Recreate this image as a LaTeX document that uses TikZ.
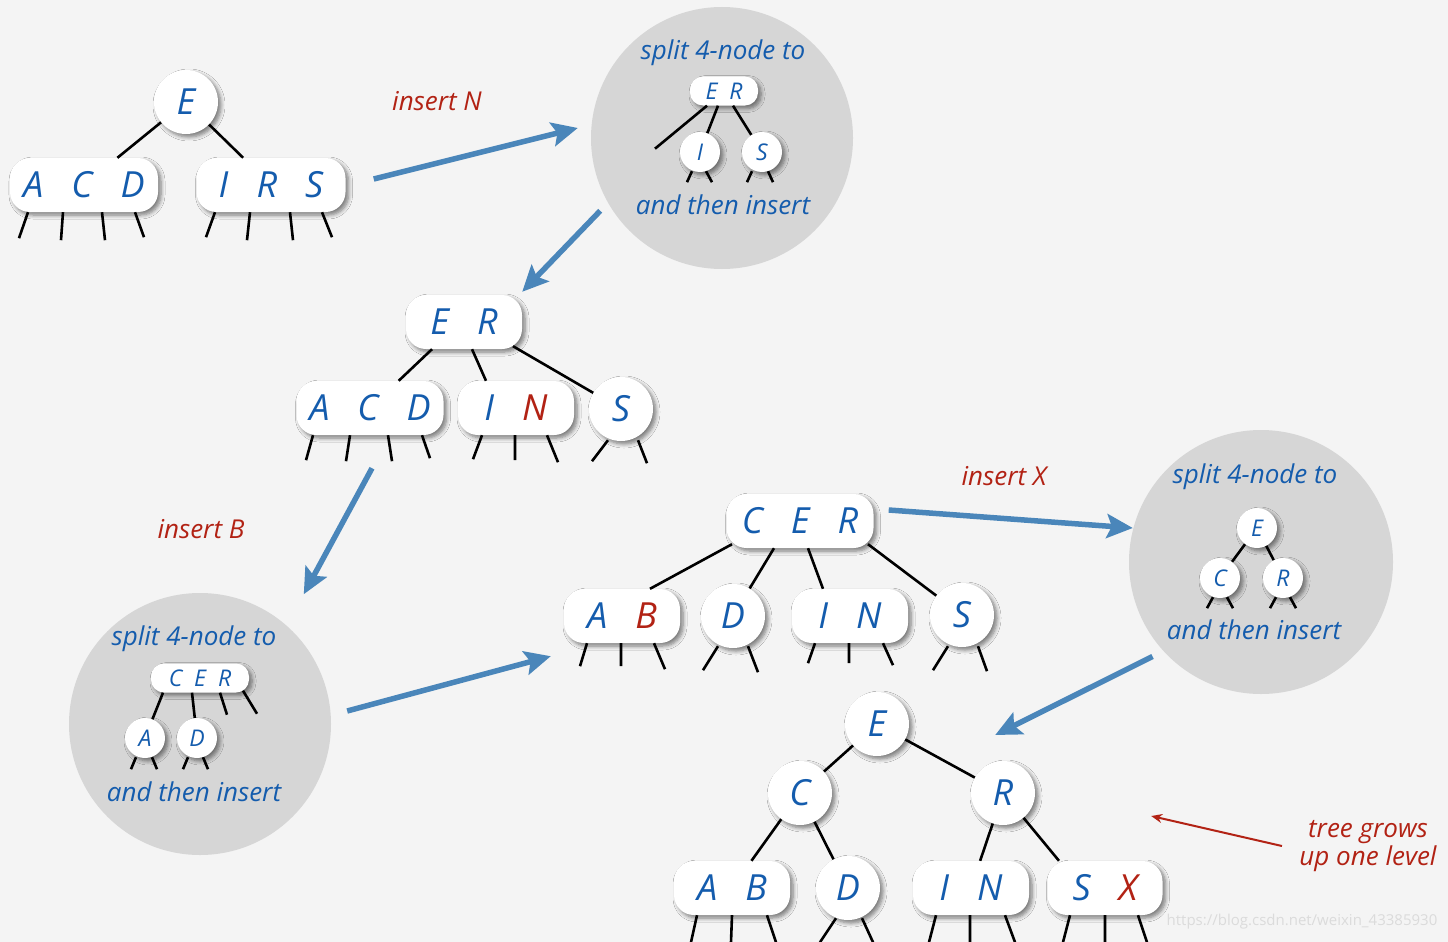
\documentclass[tikz,border=0pt]{standalone}
\usepackage{fontspec}
\setmainfont{Open Sans}
\usetikzlibrary{arrows.meta,shadows.blur}
\definecolor{keyblue}{RGB}{20,92,173}
\definecolor{keyred}{RGB}{178,34,20}
\definecolor{arrblue}{RGB}{74,134,186}
\definecolor{discgray}{RGB}{214,214,214}
\definecolor{bggray}{RGB}{244,244,244}

\begin{document}
\begin{tikzpicture}[
  x=1pt, y=-1pt,
  knode/.style={circle, fill=white, minimum size=64pt, inner sep=0pt, text=keyblue,
    font=\itshape\fontsize{36}{42}\selectfont,
    blur shadow={shadow xshift=3pt, shadow yshift=-3pt, shadow blur radius=4pt, shadow blur steps=6, shadow opacity=50}},
  kpill/.style={knode, rectangle, rounded corners=20pt, minimum height=54pt, minimum width=116pt},
  sknode/.style={knode, minimum size=40pt, font=\itshape\fontsize{23}{27}\selectfont},
  skpill/.style={kpill, minimum height=29pt, rounded corners=13pt, font=\itshape\fontsize{23}{27}\selectfont},
  disc/.style={circle, fill=discgray, minimum size=262pt, inner sep=0pt},
  link/.style={line width=2.6pt, black},
  arr/.style={-{Stealth[length=26pt,width=24pt,inset=5pt]}, line width=5.5pt, arrblue},
  redarr/.style={-{Stealth[length=11pt,width=9pt]}, line width=2pt, keyred},
  lbl/.style={text=keyred, font=\itshape\fontsize{26}{28}\selectfont, align=center},
  note/.style={text=keyblue, font=\itshape\fontsize{26}{28}\selectfont}
]

% canvas
\fill[bggray] (0,0) rectangle (1448,942);
\useasboundingbox (0,0) rectangle (1448,942);

% grey split discs
\node[disc] (disc1) at (722,138) {};
\node[disc] (disc2) at (200,724) {};
\node[disc, minimum size=264pt] (disc3) at (1261,562) {};

% first tree
\node[knode] (e1) at (186,102) {E};
\node[kpill, minimum width=148pt] (acd1) at (84,185) {A~~~C~~~D};
\node[kpill, minimum width=149pt] (irs1) at (271,185) {I~~~R~~~S};
\draw[link] (e1) -- (acd1);
\draw[link] (e1) -- (irs1);
\draw[link] ([shift={(-56,0)}]acd1.south) -- ++(-9,26) ([shift={(-21,0)}]acd1.south) -- ++(-2,28)
  ([shift={(18,0)}]acd1.south) -- ++(3,28) ([shift={(51,0)}]acd1.south) -- ++(9,25);
\draw[link] ([shift={(-56,0)}]irs1.south) -- ++(-9,25) ([shift={(-21,0)}]irs1.south) -- ++(-3,28)
  ([shift={(19,0)}]irs1.south) -- ++(3,28) ([shift={(51,0)}]irs1.south) -- ++(10,25);

% split of I R S
\node[note] (split1) at (723,53) {split 4-node to};
\node[note] (then1) at (723,205) {and then insert};
\node[skpill, minimum width=68pt] (er1) at (724,91) {E~~R};
\node[sknode] (i1) at (700,152) {I};
\node[sknode] (s1) at (762,152) {S};
\draw[link] ([shift={(-17,0)}]er1.south) -- ++(-52,43);
\draw[link] ([shift={(-6,0)}]er1.south) -- (i1);
\draw[link] ([shift={(9,0)}]er1.south) -- (s1);
\draw[link] ([shift={(-8,-1)}]i1.south) -- ++(-5,11) ([shift={(6,-1)}]i1.south) -- ++(6,11);
\draw[link] ([shift={(-10,-1)}]s1.south) -- ++(-5,11) ([shift={(6,-1)}]s1.south) -- ++(5,11);

% second tree
\node[kpill] (er2) at (464,322) {E~~~R};
\node[kpill, minimum width=147pt] (acd2) at (370,408) {A~~~C~~~D};
\node[kpill] (in2) at (516,408) {I~~~\textcolor{keyred}{N}};
\node[knode] (s2) at (621,409) {S};
\draw[link] ([shift={(-32,0)}]er2.south) -- (acd2);
\draw[link] ([shift={(8,0)}]er2.south) -- ([shift={(-30,0)}]in2.north);
\draw[link] ([shift={(49,-3)}]er2.south) -- (s2);
\draw[link] ([shift={(-57,0)}]acd2.south) -- ++(-7,25) ([shift={(-20,0)}]acd2.south) -- ++(-4,26)
  ([shift={(18,0)}]acd2.south) -- ++(4,26) ([shift={(52,0)}]acd2.south) -- ++(8,23);
\draw[link] ([shift={(-34,0)}]in2.south) -- ++(-9,24) ([shift={(-1,0)}]in2.south) -- ++(0,25)
  ([shift={(31,0)}]in2.south) -- ++(11,27);
\draw[link] ([shift={(-13,-1)}]s2.south) -- ++(-16,21) ([shift={(17,-1)}]s2.south) -- ++(9,23);

% split of A C D
\node[note] (split2) at (194,639) {split 4-node to};
\node[note] (then2) at (194,792) {and then insert};
\node[skpill, minimum width=98pt] (cer2) at (200,678) {C~~E~~R};
\node[sknode] (a2) at (145,738) {A};
\node[sknode] (d2) at (197,738) {D};
\draw[link] ([shift={(-37,0)}]cer2.south) -- (a2);
\draw[link] ([shift={(-8,0)}]cer2.south) -- (d2);
\draw[link] ([shift={(20,0)}]cer2.south) -- ++(7,22) ([shift={(43,-2)}]cer2.south) -- ++(14,23);
\draw[link] ([shift={(-9,-1)}]a2.south) -- ++(-5,12) ([shift={(7,-1)}]a2.south) -- ++(5,12);
\draw[link] ([shift={(-9,-1)}]d2.south) -- ++(-5,12) ([shift={(6,-1)}]d2.south) -- ++(5,12);

% third tree
\node[kpill, minimum width=147pt] (cer3) at (800,521) {C~~~E~~~R};
\node[kpill] (ab3) at (622,616) {A~~~\textcolor{keyred}{B}};
\node[knode] (d3) at (733,616) {D};
\node[kpill] (in3) at (850,616) {I~~~N};
\node[knode] (s3) at (962,615) {S};
\draw[link] ([shift={(-68,-4)}]cer3.south) -- ([shift={(28,0)}]ab3.north);
\draw[link] ([shift={(-26,0)}]cer3.south) -- (d3);
\draw[link] ([shift={(8,0)}]cer3.south) -- ([shift={(-27,0)}]in3.north);
\draw[link] ([shift={(68,-4)}]cer3.south) -- (s3);
\draw[link] ([shift={(-35,0)}]ab3.south) -- ++(-7,23) ([shift={(-1,0)}]ab3.south) -- ++(0,23)
  ([shift={(32,0)}]ab3.south) -- ++(11,26);
\draw[link] ([shift={(-15,-2)}]d3.south) -- ++(-15,24) ([shift={(15,-2)}]d3.south) -- ++(10,26);
\draw[link] ([shift={(-35,0)}]in3.south) -- ++(-7,20) ([shift={(-1,0)}]in3.south) -- ++(0,20)
  ([shift={(33,0)}]in3.south) -- ++(10,22);
\draw[link] ([shift={(-14,-1)}]s3.south) -- ++(-15,24) ([shift={(16,-1)}]s3.south) -- ++(9,25);

% split of C E R
\node[note] (split3) at (1255,477) {split 4-node to};
\node[note] (then3) at (1254,630) {and then insert};
\node[sknode] (e3) at (1257,528) {E};
\node[sknode] (c3) at (1220,578) {C};
\node[sknode] (r3) at (1283,578) {R};
\draw[link] (e3) -- (c3);
\draw[link] (e3) -- (r3);
\draw[link] ([shift={(-7,-1)}]c3.south) -- ++(-6,11) ([shift={(7,-1)}]c3.south) -- ++(6,11);
\draw[link] ([shift={(-7,-1)}]r3.south) -- ++(-6,11) ([shift={(7,-1)}]r3.south) -- ++(6,11);

% final tree
\node[knode] (e4) at (877,724) {E};
\node[knode] (c4) at (800,793) {C};
\node[knode] (r4) at (1003,793) {R};
\node[kpill] (ab4) at (732,888) {A~~~B};
\node[knode] (d4) at (848,888) {D};
\node[kpill] (in4) at (971,888) {I~~~N};
\node[kpill, minimum width=115pt] (sx4) at (1105,888) {S~~~\textcolor{keyred}{X}};
\draw[link] (e4) -- (c4);
\draw[link] (e4) -- (r4);
\draw[link] (c4) -- (ab4);
\draw[link] (c4) -- (d4);
\draw[link] (r4) -- (in4);
\draw[link] (r4) -- ([shift={(-46,0)}]sx4.north);
\draw[link] ([shift={(-35,0)}]ab4.south) -- ++(-6,27) ([shift={(0,0)}]ab4.south) -- ++(-1,27)
  ([shift={(35,0)}]ab4.south) -- ++(9,27);
\draw[link] ([shift={(-12,-2)}]d4.south) -- ++(-16,24) ([shift={(14,-2)}]d4.south) -- ++(11,24);
\draw[link] ([shift={(-35,0)}]in4.south) -- ++(-7,27) ([shift={(-1,0)}]in4.south) -- ++(0,27)
  ([shift={(34,0)}]in4.south) -- ++(10,27);
\draw[link] ([shift={(-35,0)}]sx4.south) -- ++(-7,27) ([shift={(0,0)}]sx4.south) -- ++(0,27)
  ([shift={(33,0)}]sx4.south) -- ++(9,27);

% insert steps
\node[lbl] (insn) at (437,101) {insert N};
\node[lbl] (insb) at (201,529) {insert B};
\node[lbl] (insx) at (1004,476) {insert X};
\draw[arr] ([shift={(28,-6)}]irs1.east) -- ([shift={(-13,-10)}]disc1.west);
\draw[arr] ([shift={(-29,-20)}]disc1.south west) -- ([shift={(0,-3)}]er2.north east);
\draw[arr] ([shift={(2,33)}]acd2.south) -- ([shift={(11,-37)}]disc2.north east);
\draw[arr] ([shift={(16,-13)}]disc2.east) -- ([shift={(-13,13)}]ab3.south west);
\draw[arr] ([shift={(15,-11)}]cer3.east) -- ([shift={(4,-34)}]disc3.west);
\draw[arr] ([shift={(-15,1)}]disc3.south west) -- ([shift={(86,11)}]e4.east);

% growth note
\node[lbl] (grows) at (1368,846) {tree grows\\up one level};
\draw[redarr] ([shift={(-14,0)}]grows.west) -- ([shift={(116,23)}]r4.east);

\node[font=\fontsize{15}{18}\selectfont, text=black!14] (mark) at (1302,922) {https://blog.csdn.net/weixin\_43385930};

\end{tikzpicture}
\end{document}
